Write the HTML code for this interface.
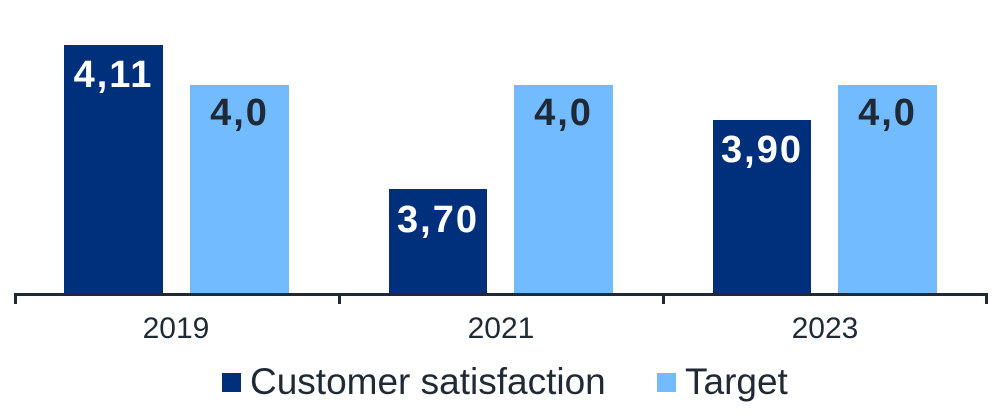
<!DOCTYPE html>
<html><head><style>
body{margin:0;background:#fff;width:1001px;height:416px;overflow:hidden;position:relative;font-family:"Liberation Sans",sans-serif}
.b{position:absolute;}
.d{background:#00307c}.l{background:#72bbff}
.v{position:absolute;font-weight:bold;font-size:38px;letter-spacing:2px;width:100%;text-align:center;line-height:40px}
.d .v{color:#fff}.l .v{color:#1f2a36}
.x{position:absolute;top:312px;font-size:30px;color:#1f2a36;width:200px;text-align:center}
.t{position:absolute;top:294px;width:3px;height:10px;background:#1f2a36}
</style></head><body>
<div class="b d" style="left:64px;top:45px;width:99px;height:249px"><div class="v" style="top:10px">4,11</div></div>
<div class="b l" style="left:190px;top:85px;width:99px;height:209px"><div class="v" style="top:8px">4,0</div></div>
<div class="b d" style="left:389px;top:189px;width:98px;height:105px"><div class="v" style="top:11px">3,70</div></div>
<div class="b l" style="left:514px;top:85px;width:99px;height:209px"><div class="v" style="top:8px">4,0</div></div>
<div class="b d" style="left:713px;top:120px;width:98px;height:174px"><div class="v" style="top:10px">3,90</div></div>
<div class="b l" style="left:838px;top:85px;width:99px;height:209px"><div class="v" style="top:8px">4,0</div></div>
<div style="position:absolute;left:14px;top:293px;width:974px;height:3px;background:#1f2a36"></div>
<div class="t" style="left:14px"></div><div class="t" style="left:338px"></div><div class="t" style="left:662px"></div><div class="t" style="left:985px"></div>
<div class="x" style="left:76px">2019</div>
<div class="x" style="left:401px">2021</div>
<div class="x" style="left:725px">2023</div>
<div style="position:absolute;left:222px;top:373px;width:19px;height:19px;background:#00307c"></div>
<div style="position:absolute;left:250px;top:361px;font-size:37px;color:#1f2a36">Customer satisfaction</div>
<div style="position:absolute;left:657px;top:373px;width:19px;height:19px;background:#72bbff"></div>
<div style="position:absolute;left:685px;top:361px;font-size:37px;color:#1f2a36">Target</div>
</body></html>
